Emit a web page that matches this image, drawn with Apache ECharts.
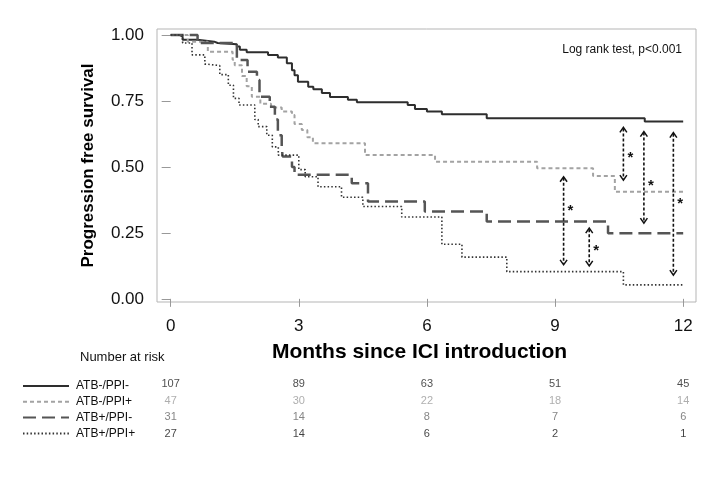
<!DOCTYPE html>
<html>
<head>
<meta charset="utf-8">
<script src="https://cdn.jsdelivr.net/npm/echarts@6/dist/echarts.min.js"></script>
<style>
html,body{margin:0;padding:0;background:#fff;}
#chart{width:716px;height:486px;}
</style>
</head>
<body>
<div id="chart"></div>
<script>
// ---- data ----
const groupNames = ['ATB-/PPI-', 'ATB-/PPI+', 'ATB+/PPI-', 'ATB+/PPI+'];

const t1 = [0, 0.22, 0.28, 0.63, 1.02, 1.1, 1.55, 1.62, 1.78, 2.28, 2.51, 2.72, 2.84, 2.9, 2.98, 3.22, 3.34, 3.54, 3.73, 4.15, 4.36, 5.55, 5.72, 6.0, 6.35, 7.4, 11.1, 12];
const s1 = [1.0, 0.994, 0.982, 0.975, 0.97, 0.965, 0.957, 0.944, 0.935, 0.924, 0.915, 0.893, 0.867, 0.848, 0.823, 0.804, 0.795, 0.78, 0.765, 0.755, 0.745, 0.735, 0.72, 0.71, 0.70, 0.685, 0.672, 0.672];

const t2 = [0, 0.4, 0.87, 1.45, 1.5, 1.67, 1.78, 1.9, 2.1, 2.35, 2.6, 2.84, 2.9, 3.07, 3.2, 3.33, 4.55, 6.19, 8.58, 9.89, 10.4, 12];
const s2 = [1.0, 0.975, 0.937, 0.906, 0.886, 0.845, 0.806, 0.766, 0.74, 0.725, 0.71, 0.697, 0.663, 0.64, 0.613, 0.59, 0.545, 0.52, 0.495, 0.466, 0.406, 0.406];

const t3 = [0, 0.63, 1.55, 1.8, 2.02, 2.08, 2.32, 2.44, 2.51, 2.6, 2.62, 2.84, 2.9, 4.24, 4.62, 5.95, 7.4, 10.24, 12];
const s3 = [1.0, 0.97, 0.905, 0.861, 0.83, 0.766, 0.728, 0.68, 0.62, 0.577, 0.54, 0.50, 0.47, 0.438, 0.369, 0.331, 0.293, 0.249, 0.249];

const t4 = [0, 0.28, 0.5, 0.8, 0.85, 1.15, 1.35, 1.47, 1.6, 1.97, 2.05, 2.25, 2.38, 2.52, 3.0, 3.15, 3.45, 4.0, 4.5, 5.41, 6.35, 6.82, 7.87, 10.6, 12];
const s4 = [1.0, 0.97, 0.925, 0.89, 0.884, 0.85, 0.81, 0.76, 0.735, 0.68, 0.653, 0.62, 0.576, 0.545, 0.49, 0.463, 0.425, 0.385, 0.35, 0.31, 0.207, 0.158, 0.103, 0.053, 0.053];

// comparison arrows: month, top value, bottom value, star value
const arrowMonth = [10.6, 11.08, 11.77, 9.2, 9.8];
const arrowTop = [0.65, 0.634, 0.63, 0.463, 0.268];
const arrowBottom = [0.45, 0.287, 0.09, 0.129, 0.125];
const starValue = [0.545, 0.438, 0.371, 0.345, 0.193];

// number at risk table
const riskMonths = [0, 3, 6, 9, 12];
const risk1 = [107, 89, 63, 51, 45];
const risk2 = [47, 30, 22, 18, 14];
const risk3 = [31, 14, 8, 7, 6];
const risk4 = [27, 14, 6, 2, 1];

const xTicks = [0, 3, 6, 9, 12];
const yTicks = [0, 0.25, 0.5, 0.75, 1.0];

// ---- build ----
const FONT = 'Liberation Sans, Arial, Helvetica, sans-serif';
const zip = (t, s) => t.map((v, i) => [v, s[i]]);
const curves = [zip(t1, s1), zip(t2, s2), zip(t3, s3), zip(t4, s4)];
const styles = [
  {color: '#2e2e2e', width: 2, type: 'solid'},
  {color: '#a3a3a3', width: 2, type: [4, 3]},
  {color: '#555555', width: 2.5, type: [13, 6]},
  {color: '#333333', width: 1.6, type: [1.5, 2.2]}
];
const riskRows = [risk1, risk2, risk3, risk4];
const riskColors = ['#222', '#9a9a9a', '#666', '#111'];

const kmSeries = curves.map((d, i) => ({
  name: groupNames[i],
  type: 'line',
  step: 'end',
  data: d,
  symbol: 'none',
  xAxisIndex: 0, yAxisIndex: 0,
  lineStyle: {color: styles[i].color, width: styles[i].width, type: styles[i].type},
  itemStyle: {color: styles[i].color},
  animation: false,
  z: 3
}));

const arrowData = arrowMonth.map((m, i) => [m, arrowTop[i], arrowBottom[i], starValue[i]]);
const arrowSeries = {
  type: 'custom',
  xAxisIndex: 0, yAxisIndex: 0,
  data: arrowData,
  encode: {x: 0, y: [1, 2]},
  animation: false,
  z: 5,
  renderItem: function (params, api) {
    const x = api.value(0), t = api.value(1), b = api.value(2), s = api.value(3);
    const p1 = api.coord([x, t]), p2 = api.coord([x, b]), ps = api.coord([x, s]);
    const st = {stroke: '#111', lineWidth: 1.5, fill: null};
    return {
      type: 'group',
      children: [
        {type: 'line', shape: {x1: p1[0], y1: p1[1] + 1, x2: p2[0], y2: p2[1] - 1},
         style: {stroke: '#111', lineWidth: 1.6, lineDash: [3, 2]}},
        {type: 'polyline', shape: {points: [[p1[0] - 3.5, p1[1] + 5], [p1[0], p1[1]], [p1[0] + 3.5, p1[1] + 5]]}, style: st},
        {type: 'polyline', shape: {points: [[p2[0] - 3.5, p2[1] - 5], [p2[0], p2[1]], [p2[0] + 3.5, p2[1] - 5]]}, style: st},
        {type: 'text', style: {text: '*', x: ps[0] + 4, y: ps[1] + 3, font: 'bold 15px ' + FONT, fill: '#111', verticalAlign: 'middle', align: 'left'}}
      ]
    };
  }
};

const riskData = [];
riskRows.forEach((row, r) => {
  row.forEach((n, c) => {
    riskData.push({value: [riskMonths[c], r, n], label: {color: riskColors[r]}});
  });
});
const riskSeries = {
  type: 'scatter',
  xAxisIndex: 1, yAxisIndex: 1,
  data: riskData,
  symbolSize: 1,
  itemStyle: {color: 'rgba(0,0,0,0)'},
  label: {show: true, position: 'inside', fontSize: 11, fontFamily: FONT,
          formatter: p => String(p.value[2])},
  animation: false,
  silent: true
};

const chart = echarts.init(document.getElementById('chart'), null, {renderer: 'canvas'});
chart.setOption({
  backgroundColor: '#fff',
  animation: false,
  title: [
    {text: 'Log rank test, p<0.001', right: 29, top: 39,
     textStyle: {fontSize: 12, fontWeight: 'normal', color: '#111', fontFamily: FONT}},
    {text: 'Number at risk', left: 75, top: 346,
     textStyle: {fontSize: 13, fontWeight: 'normal', color: '#111', fontFamily: FONT}}
  ],
  legend: {
    data: groupNames,
    orient: 'vertical',
    left: 17, top: 375,
    itemWidth: 46, itemHeight: 14, itemGap: 3.8,
    selectedMode: false,
    itemStyle: {opacity: 0},
    textStyle: {fontSize: 12, color: '#111', fontFamily: FONT, padding: [0, 0, 0, 2]}
  },
  grid: [
    {left: 157, top: 29, right: 20, bottom: 184, show: true, borderColor: '#b5b5b5', borderWidth: 1, backgroundColor: '#fff'},
    {left: 157, top: 376, right: 20, bottom: 44, show: false}
  ],
  xAxis: [
    {type: 'value', gridIndex: 0, min: -0.32, max: 12.3,
     name: 'Months since ICI introduction', nameLocation: 'middle', nameGap: 40,
     nameTextStyle: {fontSize: 21, fontWeight: 'bold', color: '#000', fontFamily: FONT, padding: [0, 14, 0, 0]},
     axisLine: {show: false},
     axisTick: {show: true, length: 8, inside: false, customValues: xTicks, lineStyle: {color: '#999'}},
     axisLabel: {customValues: xTicks, fontSize: 17, color: '#111', margin: 16, fontFamily: FONT},
     splitLine: {show: false}},
    {type: 'value', gridIndex: 1, min: -0.32, max: 12.3, show: false}
  ],
  yAxis: [
    {type: 'value', gridIndex: 0, min: -0.012, max: 1.023,
     name: 'Progression free survival', nameLocation: 'middle', nameGap: 60,
     nameTextStyle: {fontSize: 17, fontWeight: 'bold', color: '#000', fontFamily: FONT},
     axisLine: {show: false},
     axisTick: {show: true, length: 9, customValues: yTicks, lineStyle: {color: '#999'}},
     axisLabel: {customValues: yTicks, fontSize: 17, color: '#111', margin: 13, fontFamily: FONT,
                 formatter: v => v.toFixed(2)},
     splitLine: {show: false}},
    {type: 'category', gridIndex: 1, data: ['r1', 'r2', 'r3', 'r4'], inverse: true, show: false}
  ],
  series: kmSeries.concat([arrowSeries, riskSeries])
});
</script>
</body>
</html>
